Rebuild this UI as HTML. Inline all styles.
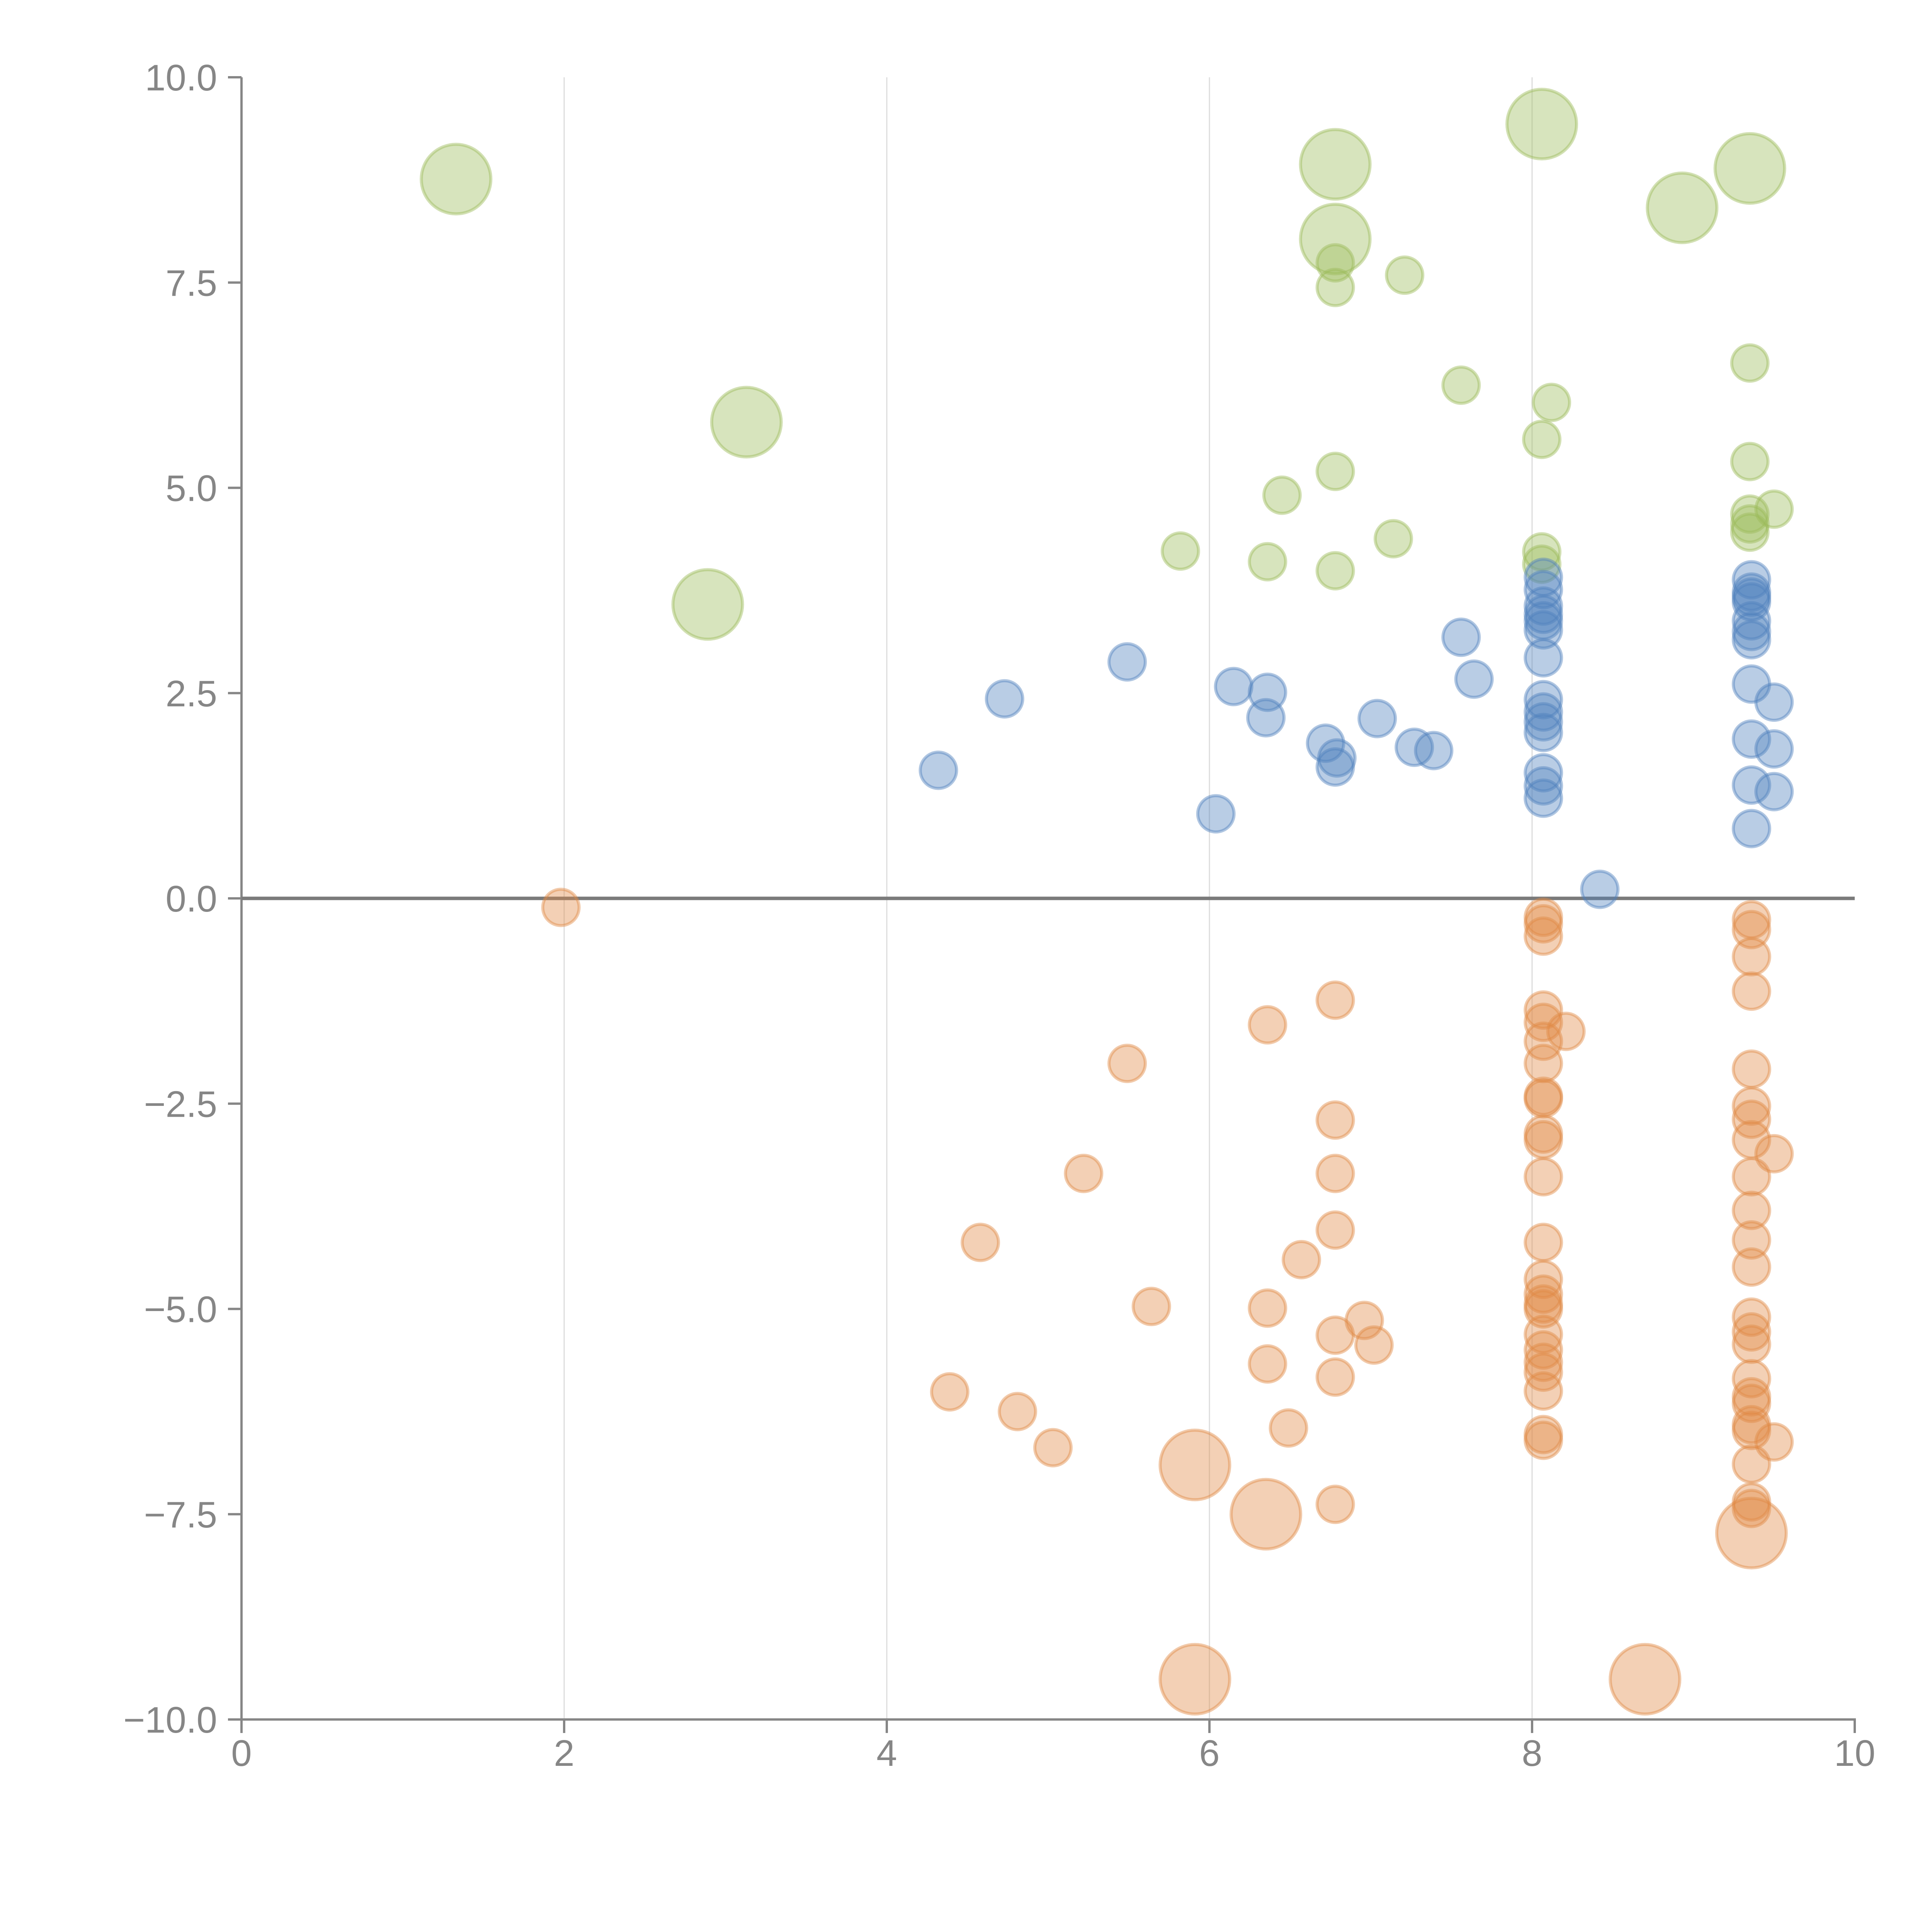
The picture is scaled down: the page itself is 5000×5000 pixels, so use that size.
<!DOCTYPE html>
<html><head><meta charset="utf-8">
<style>html,body{margin:0;padding:0;background:#fff;}svg{display:block;}</style>
</head><body>
<svg id="chart" width="5000" height="5000" viewBox="0 0 5000 5000" xmlns="http://www.w3.org/2000/svg">
<g id="grid"></g>
<g id="axes"></g>
<g id="marks"></g>
</svg>
<script>
const xTicks = [0, 2, 4, 6, 8, 10];
const xTickLabels = ["0", "2", "4", "6", "8", "10"];
const yTicks = [10, 7.5, 5, 2.5, 0, -2.5, -5, -7.5, -10];
const yTickLabels = ["10.0", "7.5", "5.0", "2.5", "0.0", "\u22122.5", "\u22125.0", "\u22127.5", "\u221210.0"];
const xGrid = [2, 4, 6, 8];

const greenX = [6.78, 6.78, 7.21, 7.56, 8.12, 8.06, 9.35, 9.35, 9.50, 9.35, 9.35, 9.35, 8.06, 8.06, 6.78, 6.45, 7.14, 5.82, 6.36, 6.78];
const greenY = [7.74, 7.44, 7.59, 6.25, 6.04, 5.59, 6.52, 5.32, 4.74, 4.68, 4.56, 4.46, 4.22, 4.07, 5.20, 4.91, 4.38, 4.23, 4.10, 3.99];
const greenBigX = [1.33, 3.13, 2.89, 6.78, 6.78, 8.06, 8.93, 9.35];
const greenBigY = [8.76, 5.80, 3.58, 8.94, 8.03, 9.43, 8.41, 8.89];

const blueX = [4.32, 4.73, 5.49, 6.15, 6.36, 6.35, 6.04, 6.72, 6.79, 6.78, 7.04, 7.27, 7.39, 7.56, 7.64, 8.42,
  8.07, 8.07, 8.07, 8.07, 8.07, 8.07, 8.07, 8.07, 8.07, 8.07, 8.07, 8.07, 8.07, 8.07,
  9.36, 9.36, 9.36, 9.36, 9.36, 9.36, 9.36, 9.36, 9.36, 9.36, 9.36, 9.50, 9.50, 9.50];
const blueY = [1.56, 2.43, 2.88, 2.58, 2.51, 2.20, 1.03, 1.89, 1.71, 1.60, 2.19, 1.84, 1.80, 3.18, 2.67, 0.11,
  3.91, 3.76, 3.56, 3.46, 3.38, 3.27, 2.93, 2.42, 2.27, 2.15, 2.02, 1.53, 1.37, 1.22,
  3.88, 3.73, 3.67, 3.61, 3.38, 3.25, 3.15, 2.61, 1.94, 1.38, 0.85, 2.39, 1.82, 1.30];

const orangeX = [1.98,
  8.07, 8.07, 8.07, 8.07, 8.07, 8.07, 8.07, 8.07, 8.07, 8.07, 8.07, 8.07, 8.07, 8.07, 8.07, 8.07, 8.07, 8.07, 8.07, 8.07, 8.07, 8.07,
  8.21,
  9.36, 9.36, 9.36, 9.36, 9.36, 9.36, 9.36, 9.36, 9.36, 9.36, 9.36, 9.36, 9.36, 9.36, 9.36, 9.36, 9.36, 9.36, 9.36, 9.36, 9.36, 9.36, 9.36,
  9.50, 9.50,
  6.78, 6.36, 5.49, 6.78, 6.78, 5.22, 6.78, 4.58, 6.57, 5.64, 6.36, 6.96, 6.78, 7.02, 6.36, 6.78, 4.39, 4.81, 6.49, 5.03, 6.78];
const orangeY = [-0.11,
  -0.23, -0.31, -0.46, -1.36, -1.51, -1.74, -2.01, -2.41, -2.44, -2.87, -2.94, -3.39, -4.19, -4.64, -4.82, -4.94, -5.00, -5.31, -5.50, -5.65, -5.77, -6.00,
  -1.62,
  -0.26, -0.38, -0.71, -1.13, -2.08, -2.53, -2.69, -2.94, -3.39, -3.80, -4.16, -4.49, -5.10, -5.28, -5.43, -5.85, -6.07, -6.15, -6.41, -6.48, -6.89, -7.35, -7.43,
  -3.11, -6.62,
  -1.24, -1.54, -2.01, -2.70, -3.35, -3.35, -4.04, -4.19, -4.40, -4.97, -4.99, -5.14, -5.32, -5.44, -5.67, -5.83, -6.01, -6.25, -6.45, -6.69, -7.38];
const orangeExtraX = [8.07, 8.07];
const orangeExtraY = [-6.53, -6.60];
const orangeBigX = [5.91, 6.35, 5.91, 8.70, 9.36];
const orangeBigY = [-6.90, -7.50, -9.51, -9.51, -7.73];

const NS = "http://www.w3.org/2000/svg";
const X0 = 625, X1 = 4800, Y0 = 4450, Y1 = 200;
function sx(v){ return X0 + (v - 0) / 10 * (X1 - X0); }
function sy(v){ return Y0 - (v + 10) / 20 * (Y0 - Y1); }
function mk(tag, attrs, parent){
  const e = document.createElementNS(NS, tag);
  for (const k in attrs) e.setAttribute(k, attrs[k]);
  parent.appendChild(e);
  return e;
}
const grid = document.getElementById('grid');
const axes = document.getElementById('axes');
const marks = document.getElementById('marks');
const AX = '#868686';

xGrid.forEach(v => {
  const l = mk('line', {x1: sx(v), x2: sx(v), y1: Y1, y2: Y0, stroke: '#dcdcdc', 'stroke-width': 3}, grid);
  
  
});

let a = mk('line', {x1: X0, x2: X0, y1: Y1, y2: Y0 + 2, stroke: AX, 'stroke-width': 6}, axes);


a = mk('line', {x1: X0 - 2, x2: X1 + 3, y1: Y0, y2: Y0, stroke: AX, 'stroke-width': 6}, axes);



yTicks.forEach((v, i) => {
  const t = mk('line', {x1: X0 - 35, x2: X0, y1: sy(v), y2: sy(v), stroke: AX, 'stroke-width': 6}, axes);
  
  
  const tx = mk('text', {x: X0 - 63, y: sy(v) + 34, 'text-anchor': 'end', 'font-family': 'Liberation Sans, Arial, sans-serif', 'font-size': 96, fill: AX}, axes);
  tx.textContent = yTickLabels[i];
  
  
});
xTicks.forEach((v, i) => {
  const t = mk('line', {x1: sx(v), x2: sx(v), y1: Y0, y2: Y0 + 35, stroke: AX, 'stroke-width': 6}, axes);
  
  
  const tx = mk('text', {x: sx(v), y: 4570, 'text-anchor': 'middle', 'font-family': 'Liberation Sans, Arial, sans-serif', 'font-size': 96, fill: AX}, axes);
  tx.textContent = xTickLabels[i];
  
  
});

a = mk('line', {x1: X0, x2: X1, y1: sy(0), y2: sy(0), stroke: '#7a7a7a', 'stroke-width': 9}, axes);



function drawSeries(xs, ys, r, color, name){
  xs.forEach((x, i) => {
    const c = mk('circle', {cx: sx(x), cy: sy(ys[i]), r: r, fill: color, 'fill-opacity': 0.4, stroke: color, 'stroke-opacity': 0.45, 'stroke-width': 8}, marks);
    
    
  });
}
drawSeries(greenX, greenY, 47, '#9bbb59', 'green-bubble');
drawSeries(greenBigX, greenBigY, 90, '#9bbb59', 'green-large-bubble');
drawSeries(blueX, blueY, 47, '#4f81bd', 'blue-bubble');
drawSeries(orangeX, orangeY, 47, '#e08a45', 'orange-bubble');
drawSeries(orangeExtraX, orangeExtraY, 47, '#e08a45', 'orange-bubble');
drawSeries(orangeBigX, orangeBigY, 90, '#e08a45', 'orange-large-bubble');
</script>
</body></html>
